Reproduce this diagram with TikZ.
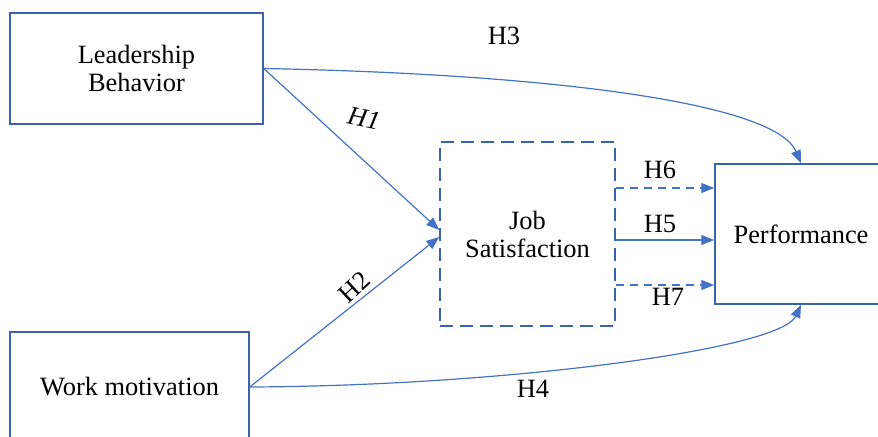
\documentclass[tikz,border=0pt]{standalone}
\usepackage{fontspec}
\setmainfont{Liberation Serif}
\usetikzlibrary{positioning, arrows.meta}

\begin{document}
\begin{tikzpicture}[x=0.5pt, y=-0.5pt]
        \definecolor{linkblue}{HTML}{4472C4}
        \definecolor{boxblue}{HTML}{3A63AC}
        \tikzset{
            varbox/.style={draw=boxblue, line width=0.75pt, align=center, inner sep=0pt,
                font=\fontsize{13.2}{14}\selectfont},
            link/.style={draw=linkblue, line width=0.6pt, -{Triangle[length=6.5pt,width=5pt]}},
            hyp/.style={inner sep=0pt, font=\fontsize{13.2}{14}\selectfont}
        }
        \useasboundingbox (0,0) rectangle (878,437);
        \clip (0,0) rectangle (878,437);

        \node[varbox, minimum width=126.5pt, minimum height=55.5pt] (LB) at (136.5,68.5) {Leadership\\Behavior};
        \node[varbox, minimum width=119.5pt, minimum height=55pt] (WM) at (129.5,387) {Work motivation};
        \node[varbox, dashed, dash pattern=on 6.5pt off 3.5pt, minimum width=87.5pt, minimum height=92pt] (JS) at (527.5,234) {Job\\Satisfaction};
        \node[varbox, minimum width=86pt, minimum height=70pt] (P) at (801,234) {Performance};

        % direct paths
        \draw[link] (LB.east) -- ([yshift=2pt]JS.west);
        \draw[link] (WM.east) -- ([yshift=-1.5pt]JS.west);
        \draw[link] (LB.east) .. controls (545,74) and (775,102) .. (P.north);
        \draw[link] (WM.east) .. controls (500,386) and (780,350) .. (P.south);

        % mediation
        \draw[link, dash pattern=on 4pt off 3pt] ([yshift=23pt]JS.east) -- ([yshift=23pt]P.west);
        \draw[link] ([yshift=-3pt]JS.east) -- ([yshift=-3pt]P.west);
        \draw[link, dash pattern=on 4pt off 3pt] ([yshift=-25.5pt]JS.east) -- ([yshift=-25.5pt]P.west);

        \node[hyp] (h3) at (504,36) {H3};
        \node[hyp, rotate=-12, font=\fontsize{13.2}{14}\selectfont\itshape] (h1) at (364,118) {H1};
        \node[hyp, rotate=43] (h2) at (354,287) {H2};
        \node[hyp] (h6) at (660,170) {H6};
        \node[hyp] (h5) at (660,224) {H5};
        \node[hyp] (h7) at (668,297) {H7};
        \node[hyp] (h4) at (533,389) {H4};
    \end{tikzpicture}
\end{document}
